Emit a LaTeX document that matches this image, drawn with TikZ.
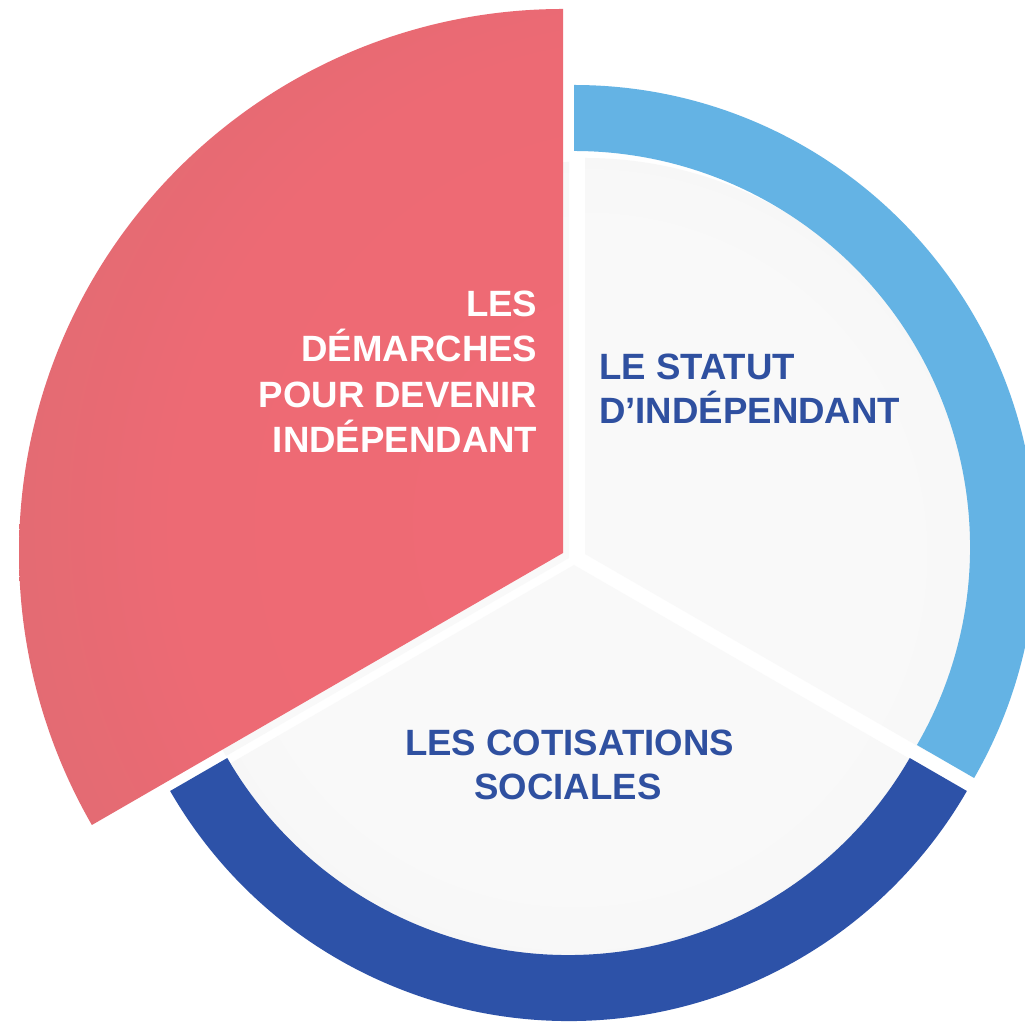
\documentclass[tikz,border=0pt]{standalone}
\usepackage{fontspec}
\setmainfont{Liberation Sans}
\definecolor{redin}{HTML}{F06A75}
\definecolor{redmid}{HTML}{ED6A74}
\definecolor{redout}{HTML}{BA6E6D}
\definecolor{lblue}{HTML}{64B3E4}
\definecolor{dblue}{HTML}{2D52A8}
\definecolor{grayin}{HTML}{F9F9F9}
\definecolor{grayout}{HTML}{EEEEEE}
\definecolor{txtblue}{HTML}{2F50A0}
\pgfdeclareradialshading{redglow}{\pgfpoint{0bp}{0bp}}{color(0bp)=(redin); color(18bp)=(redmid); color(50bp)=(redout)}
\pgfdeclareradialshading{grayglow}{\pgfpoint{0bp}{0bp}}{color(0bp)=(grayin); color(20bp)=(grayin); color(50bp)=(grayout)}
\begin{document}
\begin{tikzpicture}[x=1pt,y=1pt,
  lbl/.style={inner sep=0pt, font=\fontsize{36.6}{44}\selectfont\bfseries},
  wlbl/.style={lbl, text=white},
  blbl/.style={lbl, text=txtblue}]
\useasboundingbox (0,0) rectangle (1025,1022);
\clip (0,0) rectangle (1025,1022);
\fill[white] (0,0) rectangle (1025,1022);
% vertices
\coordinate (GR) at (585,468);
\coordinate (GB) at (574,457);
\coordinate (GL) at (569,464);
\coordinate (LB) at (574,475);
\coordinate (DB) at (568.5,461);
\coordinate (RS) at (563,469);
\coordinate (RG) at (650,500);
% gray slices
\begin{scope}
\clip (GR) -- ++(90:396) arc[start angle=90,end angle=-30,radius=396] -- cycle;
\shade[shading=grayglow] (GR) circle[radius=400];
\end{scope}
\begin{scope}
\clip (GB) -- ++(210:396) arc[start angle=210,end angle=330,radius=396] -- cycle;
\shade[shading=grayglow] (GB) circle[radius=400];
\end{scope}
\begin{scope}
\clip (GL) -- ++(90:396) arc[start angle=90,end angle=210,radius=396] -- cycle;
\shade[shading=grayglow] (GL) circle[radius=400];
\end{scope}
% light blue ring
\fill[lblue] ([shift={(90:462)}]LB) arc[start angle=90,end angle=-30,radius=462]
  -- ([shift={(-30:396)}]LB) arc[start angle=-30,end angle=90,radius=396] -- cycle;
% dark blue ring
\fill[dblue] ([shift={(210:460)}]DB) arc[start angle=210,end angle=330,radius=460]
  -- ([shift={(330:394)}]DB) arc[start angle=330,end angle=210,radius=394] -- cycle;
% red sector
\begin{scope}
\clip (RS) -- ++(90:544) arc[start angle=90,end angle=210,radius=544] -- cycle;
\shade[shading=redglow] (RG) circle[radius=660];
\end{scope}
% texts
\node[wlbl, anchor=base east] (r1) at (537.5,705) {LES};
\node[wlbl, anchor=base east] (r2) at (537.5,660) {DÉMARCHES};
\node[wlbl, anchor=base east] (r3) at (537.5,614) {POUR DEVENIR};
\node[wlbl, anchor=base east] (r4) at (537.5,569) {INDÉPENDANT};
\node[blbl, anchor=base west] (b1) at (599,642) {LE STATUT};
\node[blbl, anchor=base west] (b2) at (599,598) {D’INDÉPENDANT};
\node[blbl, anchor=base] (c1) at (569.5,266) {LES COTISATIONS};
\node[blbl, anchor=base] (c2) at (568,222) {SOCIALES};
\end{tikzpicture}
\end{document}
